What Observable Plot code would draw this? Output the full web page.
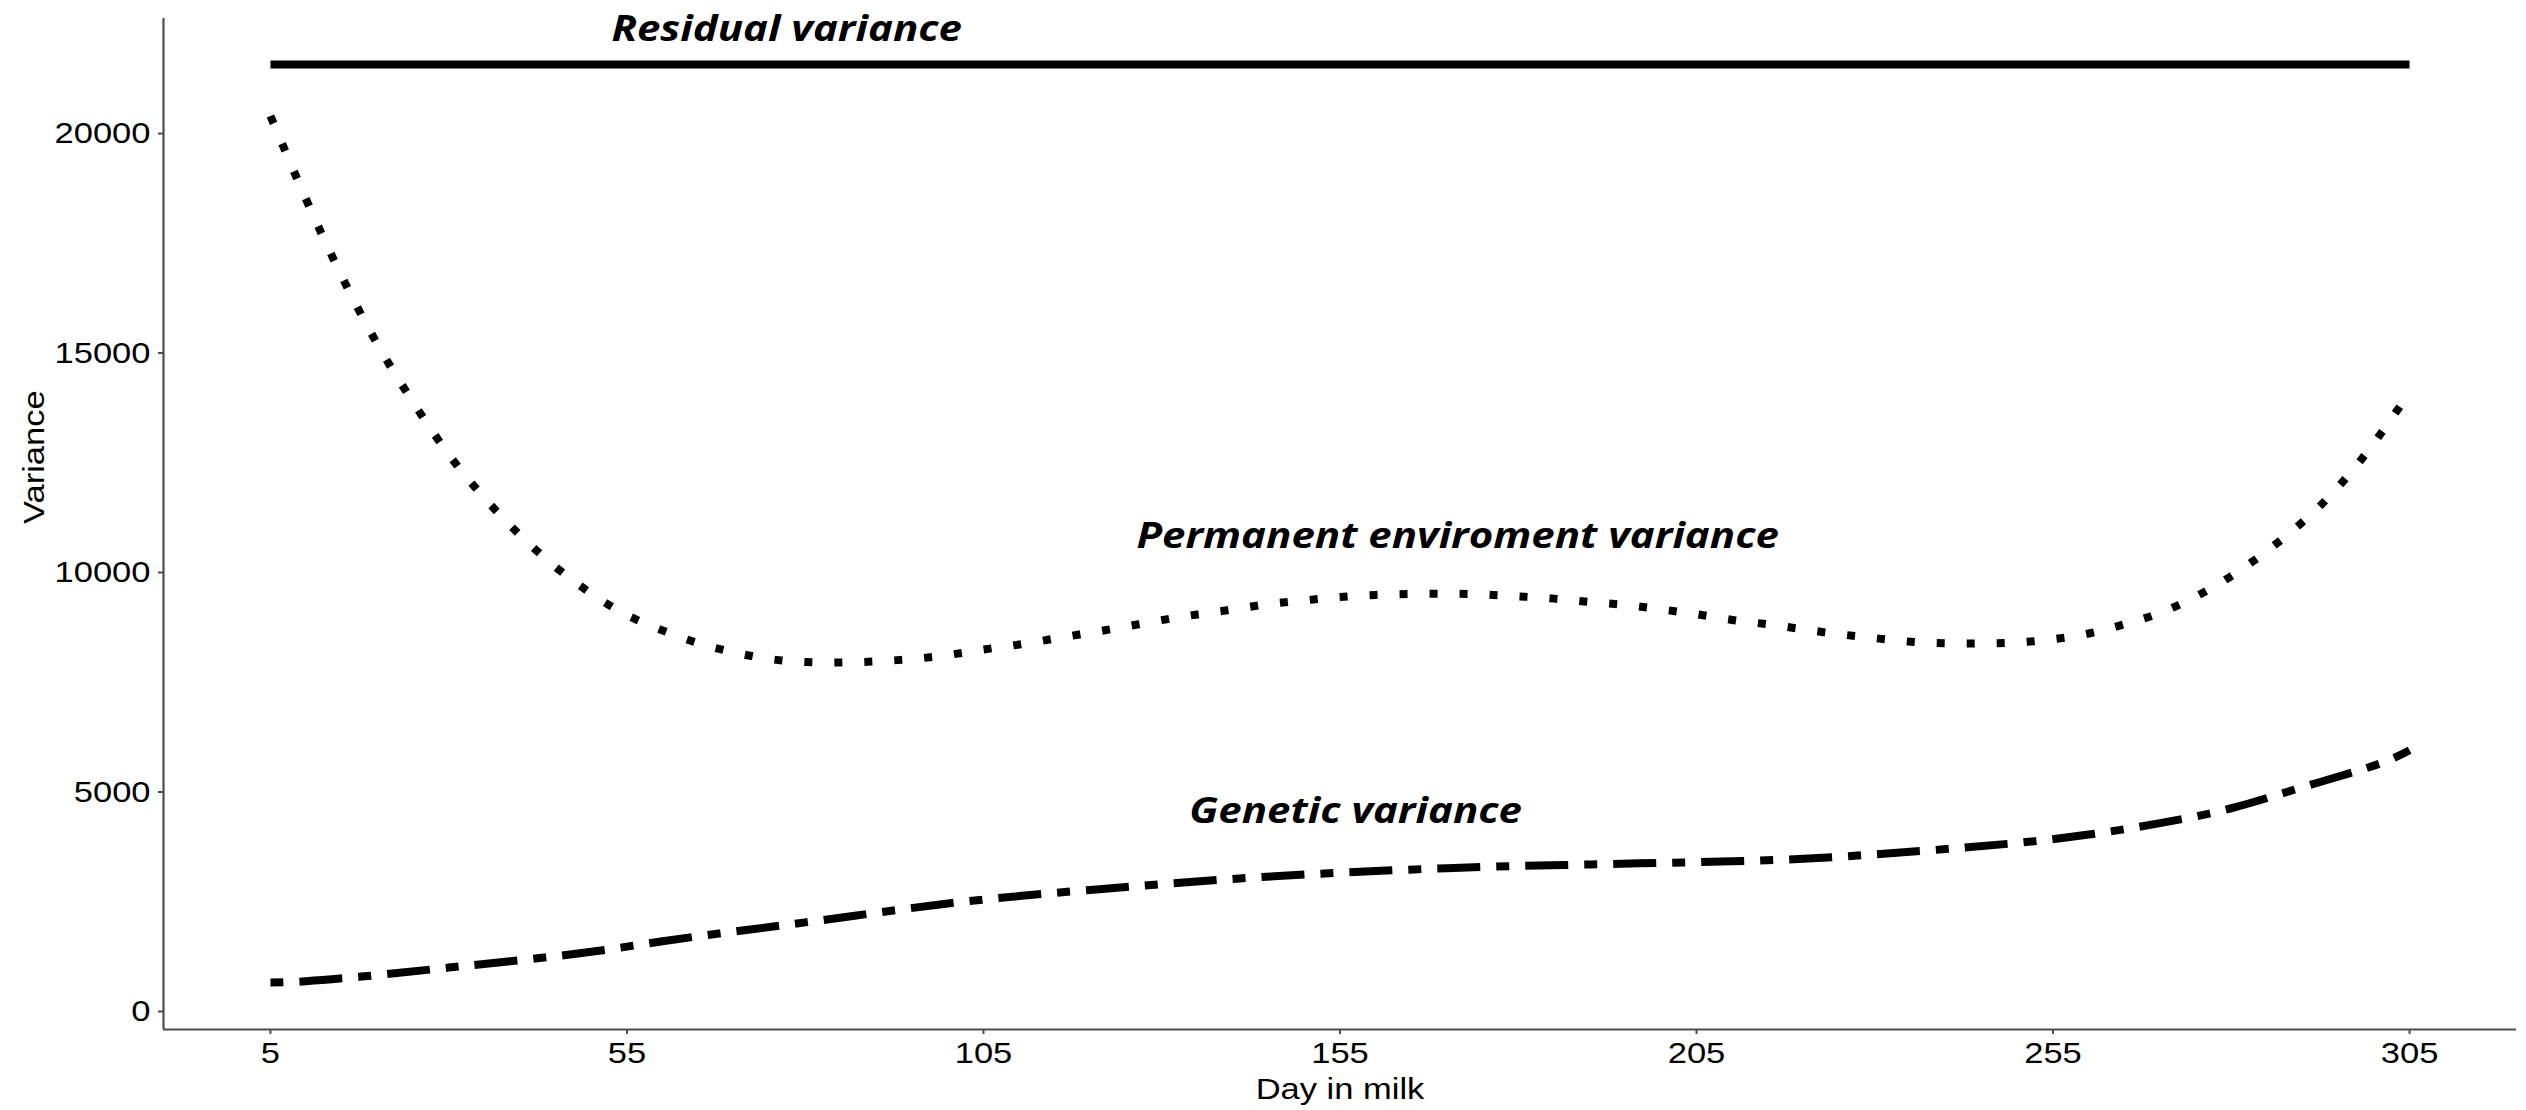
<!DOCTYPE html>
<html>
<head>
<meta charset="utf-8">
<script src="https://cdn.jsdelivr.net/npm/d3@7"></script>
<script src="https://cdn.jsdelivr.net/npm/@observablehq/plot@0.6"></script>
<style>
  html, body { margin: 0; padding: 0; background: #ffffff; overflow: hidden; }
</style>
</head>
<body>
<div id="chart"></div>
<script>
// ---- Data ----
const peDays = [5,10,15,20,25,30,35,40,45,50,55,60,65,70,75,80,85,90,95,100,105,110,115,120,125,130,135,140,145,150,155,160,165,170,175,180,185,190,195,200,205,210,215,220,225,230,235,240,245,250,255,260,265,270,275,280,285,290,295,300,305];
const peValues = [20400,18500,16750,15200,13880,12690,11700,10850,10125,9520,9030,8680,8390,8180,8030,7960,7950,7975,8030,8120,8245,8360,8495,8630,8770,8915,9045,9160,9280,9365,9440,9490,9512,9516,9500,9457,9405,9330,9260,9160,9050,8920,8820,8705,8595,8505,8425,8390,8383,8408,8480,8610,8820,9080,9450,9920,10490,11150,11950,12950,14100];

const genDays = [5,10,20,30,40,50,60,70,80,90,100,110,120,130,140,150,160,170,180,190,200,210,220,230,240,250,260,270,280,290,300,305];
const genValues = [660,690,830,1000,1170,1360,1600,1820,2030,2250,2460,2630,2770,2900,3020,3120,3200,3265,3315,3350,3385,3420,3480,3580,3700,3840,4030,4290,4630,5110,5600,5950];

const resDays = [5, 305];
const resValues = [21573, 21573];

const xTicks = [5, 55, 105, 155, 205, 255, 305];
const yTicks = [0, 5000, 10000, 15000, 20000];

const labelNames = ["Residual variance", "Permanent enviroment variance", "Genetic variance"];
const labelDays = [77.4, 171.5, 157.2];
const labelValues = [22118, 10547, 4305];

const xTitle = "Day in milk";
const yTitle = "Variance";

// ---- Scale domains (ggplot-like 5% expansion) ----
const xDomain = [-10, 320];
const yDomain = [-410, 22620];

// ---- Build tables ----
const pe = peDays.map((d, i) => ({day: d, v: peValues[i]}));
const gen = genDays.map((d, i) => ({day: d, v: genValues[i]}));
const res = resDays.map((d, i) => ({day: d, v: resValues[i]}));
const labels = labelNames.map((n, i) => ({name: n, day: labelDays[i], v: labelValues[i]}));

const axisColor = "#4d4d4d";

const chart = Plot.plot({
  width: 2526,
  height: 1110,
  marginLeft: 163,
  marginRight: 10,
  marginTop: 18,
  marginBottom: 81,
  style: {fontFamily: "'Liberation Sans', Arial, sans-serif", fontSize: "30px", color: "#000", background: "#fff"},
  x: {domain: xDomain},
  y: {domain: yDomain},
  marks: [
    Plot.axisX({ticks: xTicks, tickSize: 5, tickPadding: 7, stroke: axisColor, strokeWidth: 2, fill: "#000", fontSize: 30, label: null}),
    Plot.axisY({ticks: yTicks, tickSize: 5, tickPadding: 8, stroke: axisColor, strokeWidth: 2, fill: "#000", fontSize: 30, label: null, tickFormat: d3.format("d")}),
    Plot.ruleX([xDomain[0]], {stroke: axisColor, strokeWidth: 2.2}),
    Plot.ruleY([yDomain[0]], {stroke: axisColor, strokeWidth: 2.2}),
    Plot.line(res, {x: "day", y: "v", stroke: "#000", strokeWidth: 8, strokeLinecap: "butt"}),
    Plot.line(pe, {x: "day", y: "v", stroke: "#000", strokeWidth: 8, strokeLinecap: "butt", strokeDasharray: "8 22", curve: "natural"}),
    Plot.line(gen, {x: "day", y: "v", stroke: "#000", strokeWidth: 8, strokeLinecap: "butt", strokeDasharray: "13 16 43 16", curve: "natural"}),
    Plot.text(labels, {x: "day", y: "v", text: "name", fontFamily: "'Open Sans', sans-serif", fontWeight: "bold", fontStyle: "italic", fontSize: 35, textAnchor: "middle", lineAnchor: "bottom", fill: "#000"}),
    Plot.text([xTitle], {text: d => d, frameAnchor: "bottom", dy: 69, lineAnchor: "bottom", fontSize: 30, fill: "#000"}),
    Plot.text([yTitle], {text: d => d, frameAnchor: "left", dx: -120, rotate: -90, lineAnchor: "bottom", fontSize: 30, fill: "#000"})
  ]
});

document.getElementById("chart").appendChild(chart);

// The reference's lettering is slightly wide: stretch glyphs horizontally.
chart.querySelectorAll("text").forEach(t => {
  const k = labelNames.includes(t.textContent) ? 1.2 : 1.15;
  const w = t.getComputedTextLength();
  if (w > 0) {
    t.setAttribute("textLength", w * k);
    t.setAttribute("lengthAdjust", "spacingAndGlyphs");
  }
});
</script>
</body>
</html>
